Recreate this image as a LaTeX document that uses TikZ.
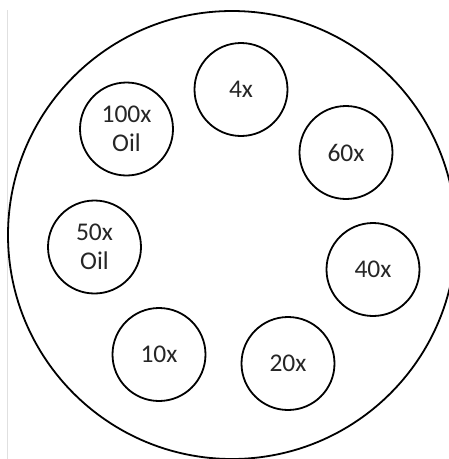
\documentclass[tikz,border=0pt]{standalone}
\usepackage{fontspec}
\setmainfont{Carlito}
\begin{document}
\begin{tikzpicture}[x=1pt,y=-1pt,
  lens/.style={circle,draw=black,line width=1.8pt,minimum size=93pt,inner sep=0pt,
    font=\fontsize{25.5}{29.5}\selectfont,text=black!85,align=center},
  plate/.style={draw=black,line width=1.8pt}]
\useasboundingbox (0,0) rectangle (449,459);
\clip (0,0) rectangle (449,459);
\fill[white] (0,0) rectangle (449,459);
\draw[black!12,line width=0.8pt] (7,10) -- (7,459);
\node[circle,plate,minimum size=448pt,inner sep=0pt] (plate) at (232,235) {};
\node[lens] (l4) at (241,89.5) {4x};
\node[lens] (l100) at (126.5,129) {100x\\Oil};
\node[lens] (l60) at (346,152.5) {60x};
\node[lens] (l50) at (94.5,247) {50x\\Oil};
\node[lens] (l40) at (373,269.5) {40x};
\node[lens] (l10) at (159,354.5) {10x};
\node[lens] (l20) at (288,363.5) {20x};
\end{tikzpicture}
\end{document}
